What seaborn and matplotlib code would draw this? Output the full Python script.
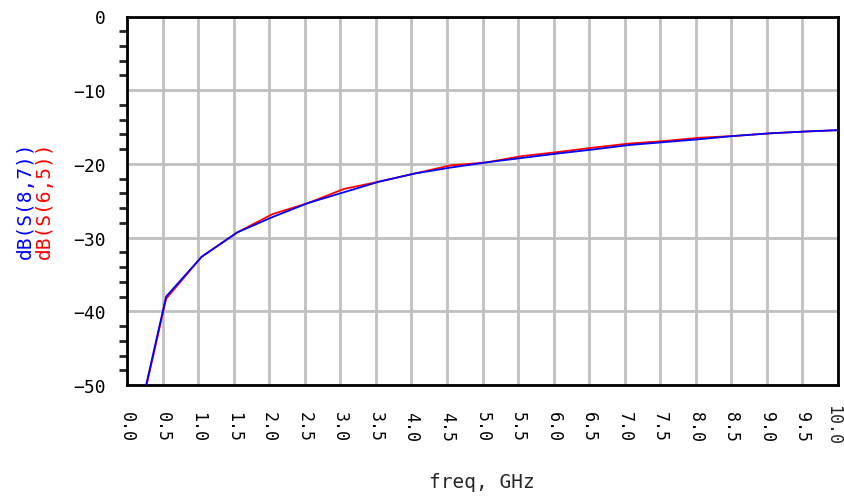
import numpy as np
import pandas as pd
import matplotlib

matplotlib.use("Agg")
import matplotlib.pyplot as plt
import seaborn as sns

# frequency points (GHz) and the two traces (dB)
freq = [0.05, 0.55, 1.05, 1.55, 2.05, 2.55, 3.05, 3.55, 4.05, 4.55, 5.05,
        5.55, 6.05, 6.55, 7.05, 7.55, 8.05, 8.55, 9.05, 9.55, 10.05]
s87 = [-59.4, -38.0, -32.6, -29.3, -27.2, -25.3, -23.85, -22.4, -21.3, -20.5, -19.8,
       -19.2, -18.6, -18.05, -17.45, -17.05, -16.65, -16.2, -15.85, -15.6, -15.4]
s65 = [-59.6, -38.3, -32.6, -29.3, -26.8, -25.3, -23.4, -22.4, -21.3, -20.2, -19.8,
       -18.95, -18.4, -17.8, -17.25, -16.9, -16.45, -16.2, -15.85, -15.6, -15.4]

xticks = [i * 0.5 for i in range(21)]
xlabels = [f"{v:.1f}" for v in xticks]
yticks = [0, -10, -20, -30, -40, -50]
ylabels = ["0", "\u221210", "\u221220", "\u221230", "\u221240", "\u221250"]

BLU, ROSSO, GRI = "#0000ff", "#ff0000", "#c0c0c0"

sns.set_style("white")
plt.rcParams["font.family"] = ["DejaVu Sans Mono", "DejaVu Sans"]

df = pd.DataFrame({"freq": freq, "s87": s87, "s65": s65})

fig = plt.figure(figsize=(8.45, 5.02), dpi=100)
ax = fig.add_axes([127 / 845, 1 - 386 / 502, (838 - 127) / 845, (386 - 17.5) / 502])

sns.lineplot(data=df, x="freq", y="s65", color=ROSSO, lw=1.3, ax=ax, zorder=3)
sns.lineplot(data=df, x="freq", y="s87", color=BLU, lw=1.3, ax=ax, zorder=4)

ax.set_xlim(0, 10)
ax.set_ylim(-50, 0)
ax.set_xticks(xticks)
# the last label sits at the canvas edge: drawn apart, nudged left a little
ax.set_xticklabels(xlabels[:-1] + [""], rotation=-90, fontsize=12)
ax.annotate(xlabels[-1], xy=(xticks[-1], 0), xycoords=("data", "axes fraction"),
            xytext=(-5, -19), textcoords="offset pixels", rotation=-90,
            ha="center", va="top", fontsize=12, annotation_clip=False)
ax.set_yticks(yticks)
ax.set_yticklabels(ylabels, fontsize=13)
ax.set_yticks(np.arange(-50, 0.1, 2), minor=True)

ax.grid(True, which="major", color=GRI, lw=2)
ax.set_axisbelow(True)
for s in ax.spines.values():
    s.set_color("black")
    s.set_linewidth(2)

ax.tick_params(axis="x", which="major", direction="out", length=12, width=2, pad=7, colors="black")
ax.tick_params(axis="y", which="major", direction="out", length=12, width=2, pad=3, colors="black")
ax.tick_params(axis="y", which="minor", direction="out", length=6, width=2, left=True)
ax.tick_params(top=False, right=False)

ax.set_xlabel("")
ax.set_ylabel("")
fig.text(482 / 845, 1 - 483 / 502, "freq, GHz", ha="center", va="center", fontsize=14)
fig.text(25 / 845, 1 - 200 / 502, "dB(S(8,7))", rotation=90, color=BLU,
         ha="center", va="center", fontsize=14)
fig.text(44 / 845, 1 - 200 / 502, "dB(S(6,5))", rotation=90, color=ROSSO,
         ha="center", va="center", fontsize=14)

fig.savefig("out.png", dpi=100)
plt.close(fig)
